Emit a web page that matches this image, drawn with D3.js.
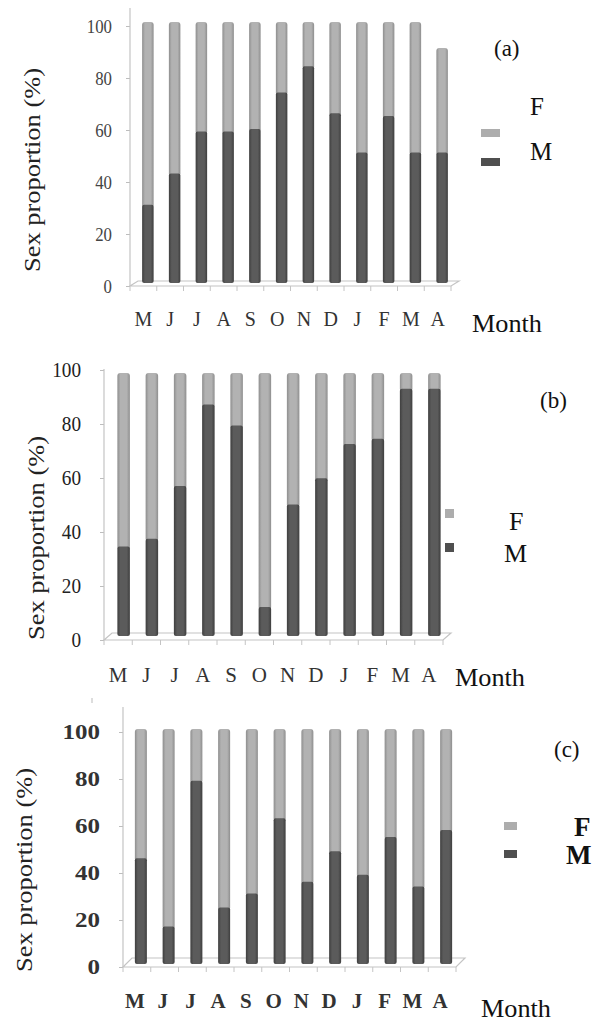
<!DOCTYPE html>
<html>
<head>
<meta charset="utf-8">
<script src="https://cdn.jsdelivr.net/npm/d3@7"></script>
<style>
  body { margin: 0; background: #fff; }
  svg { display: block; }
  svg text { font-family: "Liberation Serif", "DejaVu Serif", serif; }
</style>
</head>
<body>
<svg id="chart" width="604" height="1021"></svg>
<script>
// Month categories (May -> April)
const months = ['M', 'J', 'J', 'A', 'S', 'O', 'N', 'D', 'J', 'F', 'M', 'A'];
const yTicks = [0, 20, 40, 60, 80, 100];

// Panel (a)
const maleA = [30, 42, 58, 58, 59, 73, 83, 65, 50, 64, 50, 50];
const femaleA = [70, 58, 42, 42, 41, 27, 17, 35, 50, 36, 50, 40];
// Panel (b)
const maleB = [34, 37, 57, 88, 80, 11, 50, 60, 73, 75, 94, 94];
const femaleB = [66, 63, 43, 12, 20, 89, 50, 40, 27, 25, 6, 6];
// Panel (c)
const maleC = [45, 16, 78, 24, 30, 62, 35, 48, 38, 54, 33, 57];
const femaleC = [55, 84, 22, 76, 70, 38, 65, 52, 62, 46, 67, 43];

const FONT = '"Liberation Serif", "DejaVu Serif", serif';
const svg = d3.select('#chart');

// cylinder-ish shading for the bars
const defs = svg.append('defs');
function addGrad(id, edge, mid) {
    const g = defs.append('linearGradient').attr('id', id)
        .attr('x1', '0%').attr('x2', '100%').attr('y1', '0%').attr('y2', '0%');
    g.append('stop').attr('offset', '0%').attr('stop-color', edge);
    g.append('stop').attr('offset', '25%').attr('stop-color', mid);
    g.append('stop').attr('offset', '75%').attr('stop-color', mid);
    g.append('stop').attr('offset', '100%').attr('stop-color', edge);
}
addGrad('gradF', '#8e8e8e', '#b2b2b2');
addGrad('gradM', '#3e3e3e', '#5b5b5b');

function txt(sel) {
    return sel.style('font-family', FONT);
}

function drawPanel(p, male, female) {
    const g = svg.append('g');

    const x = d3.scaleBand().domain(d3.range(months.length))
        .range([p.left, p.right]).paddingInner(0).paddingOuter(0);
    const y = d3.scaleLinear().domain([0, 100]).range([p.y0, p.y100]);
    // bars sit on the 3D floor, a little behind the axis plane
    const yBar = d3.scaleLinear().domain([0, 100]).range([p.barBottom, p.barTop]);

    // floor
    const dx = p.depth[0], dy = p.depth[1];
    g.append('path')
        .attr('d', `M${p.left},${p.y0}L${p.right},${p.y0}L${p.right + dx},${p.y0 + dy}L${p.left + dx},${p.y0 + dy}Z`)
        .attr('fill', 'none').attr('stroke', '#c4c4c4').attr('stroke-width', 1.2);

    // y axis
    const yAxis = d3.axisLeft(y).tickValues(yTicks).tickSize(4).tickPadding(p.tickPad);
    const ya = g.append('g').attr('transform', `translate(${p.left},0)`).call(yAxis);
    ya.attr('font-family', null);
    ya.select('.domain').remove();
    ya.selectAll('.tick line').attr('stroke', '#bdbdbd');
    txt(ya.selectAll('.tick text'))
        .attr('font-size', p.tickFont).attr('font-weight', p.tickWeight)
        .attr('fill', p.tickColor)
        .attr('textLength', d => String(d).length * p.digitW)
        .attr('lengthAdjust', 'spacingAndGlyphs');
    g.append('line')
        .attr('x1', p.left).attr('x2', p.left)
        .attr('y1', p.axisTop).attr('y2', p.y0)
        .attr('stroke', '#c4c4c4').attr('stroke-width', 1.2);

    // x axis ticks at band edges
    const edges = d3.range(months.length + 1).map(i => p.left + i * x.bandwidth());
    g.selectAll('.xt').data(edges).enter().append('line')
        .attr('x1', d => d).attr('x2', d => d)
        .attr('y1', p.y0).attr('y2', p.y0 + 5)
        .attr('stroke', '#c4c4c4');

    // month labels
    txt(g.selectAll('.ml').data(months).enter().append('text'))
        .attr('x', (d, i) => x(i) + x.bandwidth() / 2 + p.labelShift)
        .attr('y', p.labelY)
        .attr('text-anchor', 'middle')
        .attr('font-size', p.monthFont).attr('font-weight', p.tickWeight)
        .attr('fill', '#333')
        .text(d => d);

    // bars: female on top of male
    const bw = p.barWidth;
    const cx = i => x(i) + x.bandwidth() / 2 + p.barShift;
    g.selectAll('.bf').data(female).enter().append('rect')
        .attr('x', (d, i) => cx(i) - bw / 2)
        .attr('y', (d, i) => yBar(male[i] + d))
        .attr('width', bw)
        .attr('height', (d, i) => yBar(male[i]) - yBar(male[i] + d) + 3)
        .attr('rx', 3)
        .attr('fill', 'url(#gradF)');
    g.selectAll('.bm').data(male).enter().append('rect')
        .attr('x', (d, i) => cx(i) - bw / 2)
        .attr('y', d => yBar(d))
        .attr('width', bw)
        .attr('height', d => yBar(0) - yBar(d))
        .attr('rx', 2)
        .attr('fill', 'url(#gradM)');

    // y label
    txt(g.append('text'))
        .attr('transform', `translate(${p.ylabX},${p.ylabY}) rotate(-90)`)
        .attr('text-anchor', 'middle')
        .attr('font-size', 24)
        .attr('textLength', 204).attr('lengthAdjust', 'spacingAndGlyphs')
        .attr('fill', '#222')
        .text('Sex proportion (%)');

    // "Month"
    txt(g.append('text'))
        .attr('x', p.monthX).attr('y', p.monthY)
        .attr('font-size', 25).attr('fill', '#111')
        .attr('textLength', 70).attr('lengthAdjust', 'spacingAndGlyphs')
        .text('Month');

    // panel tag
    txt(g.append('text'))
        .attr('x', p.tag[0]).attr('y', p.tag[1])
        .attr('font-size', 23).attr('fill', '#111')
        .text(p.tagText);

    // legend
    const lg = p.legend;
    g.append('rect').attr('x', lg.sx).attr('y', lg.fy).attr('width', lg.sw).attr('height', lg.sh)
        .attr('fill', '#adadad');
    g.append('rect').attr('x', lg.sx).attr('y', lg.my).attr('width', lg.sw).attr('height', lg.sh)
        .attr('fill', '#4f4f4f');
    txt(g.append('text')).attr('x', lg.fx).attr('y', lg.fty)
        .attr('font-size', lg.font).attr('font-weight', p.tickWeight).attr('fill', '#111').text('F');
    txt(g.append('text')).attr('x', lg.mx).attr('y', lg.mty)
        .attr('font-size', lg.font).attr('font-weight', p.tickWeight).attr('fill', '#111').text('M');

    if (p.extraMark) {
        g.append('line')
            .attr('x1', p.extraMark[0]).attr('x2', p.extraMark[0])
            .attr('y1', p.extraMark[1]).attr('y2', p.extraMark[1] + 5)
            .attr('stroke', '#bbb');
    }
}

drawPanel({
    left: 130, right: 451, y0: 286, y100: 26, axisTop: 8,
    barBottom: 283, barTop: 22, barShift: 4.5, barWidth: 11.5, depth: [8, -5],
    tickPad: 14, tickFont: 19, tickWeight: 'normal', tickColor: '#444', digitW: 8.4,
    labelY: 326, labelShift: 0, monthFont: 20,
    ylabX: 40, ylabY: 170, monthX: 472, monthY: 332,
    tag: [494, 56], tagText: '(a)',
    legend: { sx: 481, fy: 129, my: 158, sw: 19, sh: 8, fx: 530, fty: 115, mx: 530, mty: 160, font: 25 }
}, maleA, femaleA);

drawPanel({
    left: 104, right: 443, y0: 640, y100: 370, axisTop: 369,
    barBottom: 636, barTop: 373, barShift: 5.5, barWidth: 12.5, depth: [8, -7],
    tickPad: 19, tickFont: 20, tickWeight: 'normal', tickColor: '#222', digitW: 9.6,
    labelY: 682, labelShift: 0, monthFont: 21,
    ylabX: 44, ylabY: 538, monthX: 455, monthY: 686,
    tag: [540, 408], tagText: '(b)',
    legend: { sx: 445, fy: 509, my: 543, sw: 9, sh: 9, fx: 509, fty: 530, mx: 504, mty: 562, font: 26 }
}, maleB, femaleB);

drawPanel({
    left: 123, right: 456, y0: 967, y100: 732, axisTop: 707,
    barBottom: 964, barTop: 729, barShift: 4, barWidth: 12, depth: [9, -9],
    tickPad: 19, tickFont: 20, tickWeight: 'bold', tickColor: '#333', digitW: 12.5,
    labelY: 1008, labelShift: -2, monthFont: 21,
    ylabX: 32, ylabY: 870, monthX: 481, monthY: 1017,
    tag: [554, 757], tagText: '(c)',
    legend: { sx: 504, fy: 822, my: 850, sw: 13, sh: 8, fx: 574, fty: 836, mx: 566, mty: 864, font: 27 },
    extraMark: [92, 698]
}, maleC, femaleC);
</script>
</body>
</html>
